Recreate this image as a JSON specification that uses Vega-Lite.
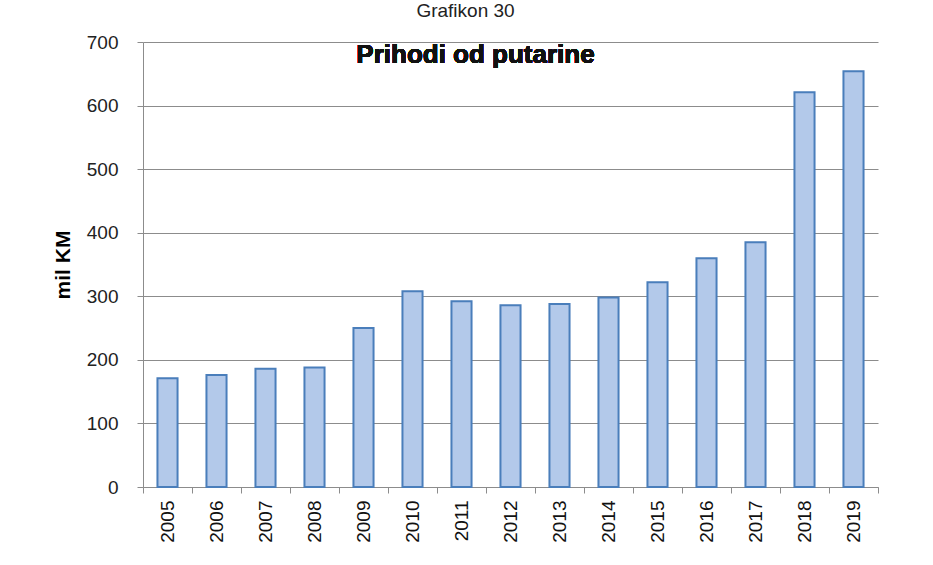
{
  "$schema": "https://vega.github.io/schema/vega-lite/v6.json",
  "width": 735,
  "height": 445,
  "autosize": {"type": "none"},
  "padding": {"left": 143, "top": 42, "right": 55, "bottom": 78},
  "background": "white",
  "title": {
    "text": "Grafikon 30",
    "anchor": "middle",
    "frame": "group",
    "offset": 12,
    "dx": -45,
    "fontSize": 19,
    "fontWeight": "normal",
    "font": "Liberation Sans",
    "color": "#222222"
  },
  "data": {
    "values": [
      {"year": "2005", "value": 171},
      {"year": "2006", "value": 176},
      {"year": "2007", "value": 186},
      {"year": "2008", "value": 188},
      {"year": "2009", "value": 250},
      {"year": "2010", "value": 308},
      {"year": "2011", "value": 292},
      {"year": "2012", "value": 286},
      {"year": "2013", "value": 288},
      {"year": "2014", "value": 298},
      {"year": "2015", "value": 322},
      {"year": "2016", "value": 360},
      {"year": "2017", "value": 385},
      {"year": "2018", "value": 621},
      {"year": "2019", "value": 654}
    ]
  },
  "layer": [
    {
      "mark": {"type": "bar", "fill": "#b3c9ea", "stroke": "#4a7ebb", "strokeWidth": 2, "width": {"band": 0.41}},
      "encoding": {
        "x": {
          "field": "year",
          "type": "nominal",
          "sort": null,
          "scale": {"paddingInner": 0, "paddingOuter": 0},
          "axis": {
            "title": null,
            "labelAngle": -90,
            "labelFontSize": 19,
            "labelFont": "Liberation Sans",
            "labelColor": "#111111",
            "labelPadding": 7,
            "tickBand": "extent",
            "tickSize": 6,
            "tickColor": "#8c8c8c",
            "domainColor": "#8c8c8c",
            "grid": false
          }
        },
        "y": {
          "field": "value",
          "type": "quantitative",
          "scale": {"domain": [0, 700], "nice": false},
          "axis": {
            "title": "mil KM",
            "titleFont": "Liberation Sans",
            "titleFontSize": 21,
            "titleFontWeight": "bold",
            "titleColor": "#000000",
            "titlePadding": 13,
            "values": [0, 100, 200, 300, 400, 500, 600, 700],
            "labelFontSize": 19,
            "labelFont": "Liberation Sans",
            "labelColor": "#222222",
            "labelPadding": 19,
            "tickSize": 6,
            "tickColor": "#8c8c8c",
            "domainColor": "#8c8c8c",
            "grid": true,
            "gridColor": "#8c8c8c",
            "gridWidth": 1
          }
        }
      }
    },
    {
      "mark": {
        "type": "text",
        "text": "Prihodi od putarine",
        "font": "Liberation Sans",
        "fontSize": 26,
        "fontWeight": "bold",
        "color": "#111111",
        "align": "center",
        "baseline": "alphabetic",
        "dx": 14
      },
      "encoding": {
        "x": {"datum": "2011", "type": "nominal"},
        "y": {"datum": 667, "type": "quantitative"}
      }
    }
  ],
  "config": {
    "view": {"stroke": null}
  }
}
